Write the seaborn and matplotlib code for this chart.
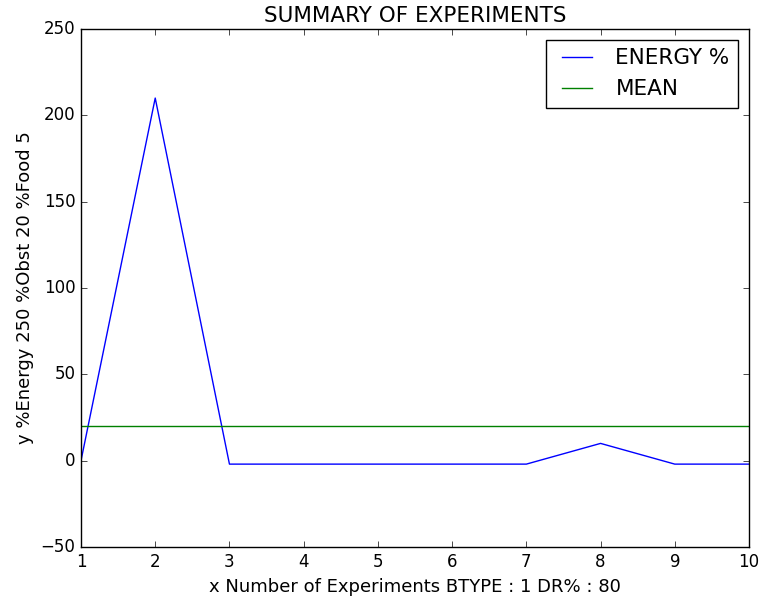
import matplotlib
matplotlib.use('Agg')
import matplotlib.pyplot as plt
import seaborn as sns
import pandas as pd

experiments = [1, 2, 3, 4, 5, 6, 7, 8, 9, 10]
energy_pct = [0, 210, -2, -2, -2, -2, -2, 10, -2, -2]
mean_energy = 20

plt.style.use('classic')
plt.rcParams['font.family'] = ['DejaVu Sans']

df = pd.DataFrame({"x": experiments, "energy": energy_pct})

fig = plt.figure(figsize=(7.63, 6.05), dpi=100, facecolor='white')
ax = fig.add_axes([81 / 763, 1 - 547 / 605, (749 - 81) / 763, (547 - 29) / 605])

sns.lineplot(data=df, x="x", y="energy", ax=ax, color='b', label="ENERGY %")
ax.axhline(mean_energy, color='g', label="MEAN")

ax.set_xlim(1, 10)
ax.set_ylim(-50, 250)
ax.set_title("SUMMARY OF EXPERIMENTS", fontsize=15.5)
ax.set_xlabel("x Number of Experiments BTYPE : 1 DR% : 80", fontsize=13)
ax.set_ylabel("y %Energy 250 %Obst 20 %Food 5", fontsize=13)
ax.tick_params(labelsize=12)
ax.legend(loc='upper right', fontsize=15.5, fancybox=False)

fig.savefig("out.png", dpi=100, facecolor='white')
